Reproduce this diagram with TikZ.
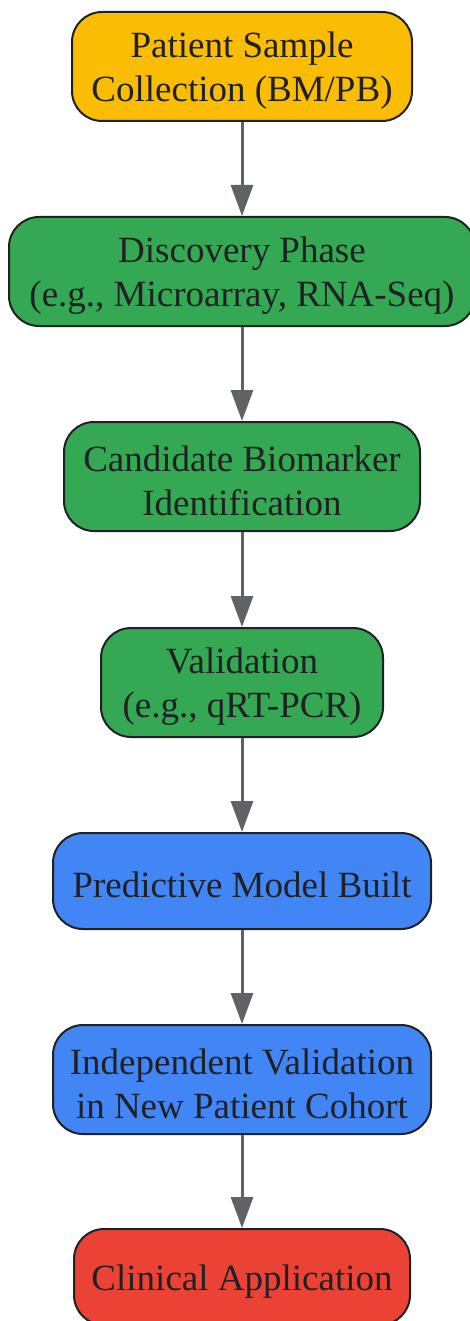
\documentclass[tikz,border=0pt]{standalone}
\usepackage{fontspec}
\setmainfont{Liberation Serif}
\usetikzlibrary{arrows.meta}
\definecolor{cyel}{HTML}{FBBC04}
\definecolor{cgrn}{HTML}{34A853}
\definecolor{cblu}{HTML}{4285F4}
\definecolor{cred}{HTML}{EA4335}
\definecolor{cedge}{HTML}{202124}
\definecolor{carrow}{HTML}{5F6368}
\tikzset{
  box/.style={draw=cedge, line width=2pt, rounded corners=30pt, inner sep=0pt},
  lbl/.style={inner sep=0pt, align=center, text=cedge, font=\fontsize{37}{44}\selectfont},
  flow/.style={draw=carrow, line width=3pt, -{Triangle[length=31pt,width=22pt]}}
}
\begin{document}
\begin{tikzpicture}[x=1pt,y=-1pt]
\useasboundingbox (0,0) rectangle (470,1321);
\clip (0,0) rectangle (470,1321);
\node[box, fill=cyel, minimum width=340pt, minimum height=109pt] (n1) at (242,66.5) {};
\node[box, fill=cgrn, minimum width=466pt, minimum height=109pt] (n2) at (242,271.5) {};
\node[box, fill=cgrn, minimum width=356pt, minimum height=109pt] (n3) at (242,476.5) {};
\node[box, fill=cgrn, minimum width=282pt, minimum height=109pt] (n4) at (242,682.5) {};
\node[box, fill=cblu, minimum width=378pt, minimum height=96pt] (n5) at (242,881) {};
\node[box, fill=cblu, minimum width=378pt, minimum height=109pt] (n6) at (242,1079.5) {};
\node[box, fill=cred, minimum width=336pt, minimum height=96pt] (n7) at (242,1277) {};
\node[lbl] (t1) at ([yshift=-4pt]n1.center) {Patient Sample\\Collection (BM/PB)};
\node[lbl] (t2) at ([yshift=-4pt]n2.center) {Discovery Phase\\(e.g., Microarray, RNA-Seq)};
\node[lbl] (t3) at ([yshift=-4pt]n3.center) {Candidate Biomarker\\Identification};
\node[lbl] (t4) at ([yshift=-4pt]n4.center) {Validation\\(e.g., qRT-PCR)};
\node[lbl] (t5) at ([yshift=-4pt]n5.center) {Predictive Model Built};
\node[lbl] (t6) at ([yshift=-4pt]n6.center) {Independent Validation\\in New Patient Cohort};
\node[lbl] (t7) at ([yshift=-5pt]n7.center) {Clinical Application};
\draw[flow] (n1.south) -- (n2.north);
\draw[flow] (n2.south) -- (n3.north);
\draw[flow] (n3.south) -- (n4.north);
\draw[flow] (n4.south) -- (n5.north);
\draw[flow] (n5.south) -- (n6.north);
\draw[flow] (n6.south) -- (n7.north);
\end{tikzpicture}
\end{document}
